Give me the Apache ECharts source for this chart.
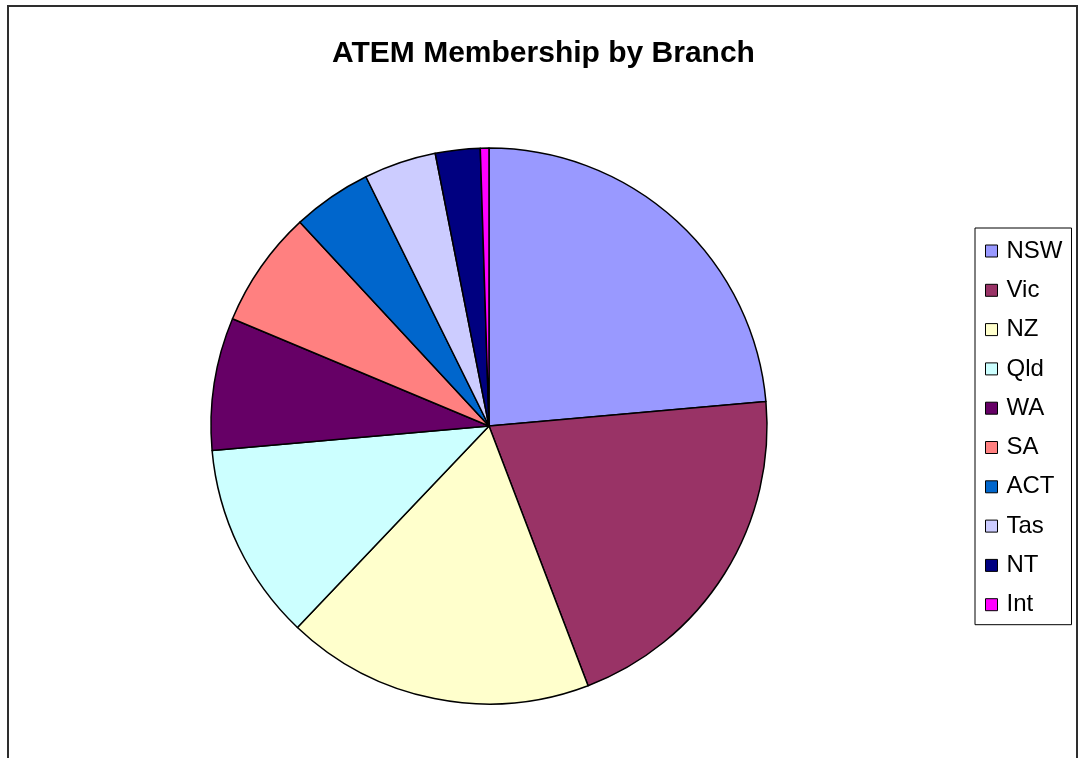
<!DOCTYPE html>
<html>
<head>
<meta charset="utf-8">
<script src="https://cdn.jsdelivr.net/npm/echarts@6/dist/echarts.min.js"></script>
<style>
  html, body { margin: 0; padding: 0; background: #fff; }
  #chart { width: 1083px; height: 758px; }
</style>
</head>
<body>
<div id="chart"></div>
<script>
// 分支名称与成员占比
const branches = ['NSW', 'Vic', 'NZ', 'Qld', 'WA', 'SA', 'ACT', 'Tas', 'NT', 'Int']
const members = [23.6, 20.6, 17.9, 11.5, 7.7, 6.8, 4.6, 4.2, 2.6, 0.5]
const colors = ['#9999FF', '#993366', '#FFFFCC', '#CCFFFF', '#660066',
  '#FF8080', '#0066CC', '#CCCCFF', '#000080', '#FF00FF']

let myChart = echarts.init(document.getElementById('chart'))
var option = {
  animation: false,
  title: {
    text: 'ATEM Membership by Branch',
    left: 538.5,
    top: 34,
    textAlign: 'center',
    textStyle: {
      fontFamily: 'Liberation Sans, Arial',
      fontSize: 30,
      fontWeight: 'bold',
      color: '#000'
    }
  },
  legend: {
    orient: 'vertical',
    left: 975,
    top: 228,
    padding: [11, 9, 8, 10],
    itemGap: 15.3,
    itemWidth: 12,
    itemHeight: 12,
    icon: 'rect',
    borderColor: '#000',
    borderWidth: 1,
    backgroundColor: '#fff',
    itemStyle: {
      borderColor: '#000',
      borderWidth: 1
    },
    textStyle: {
      fontFamily: 'Liberation Sans, Arial',
      fontSize: 24,
      color: '#000',
      padding: [0, 0, 4, 4]
    },
    data: branches
  },
  graphic: [{
    type: 'rect',
    shape: { x: 8, y: 6, width: 1069, height: 800 },
    style: { fill: 'none', stroke: '#2e2e2e', lineWidth: 2 },
    silent: true
  }],
  series: [{
    name: 'ATEM Membership',
    type: 'pie',
    center: [489, 426],
    radius: 278,
    startAngle: 90,
    clockwise: true,
    label: { show: false },
    labelLine: { show: false },
    emphasis: { disabled: true },
    itemStyle: {
      borderColor: '#000',
      borderWidth: 1.5
    },
    data: branches.map((name, i) => ({
      name: name,
      value: members[i],
      itemStyle: { color: colors[i] }
    }))
  }]
}
myChart.setOption(option)
</script>
</body>
</html>
